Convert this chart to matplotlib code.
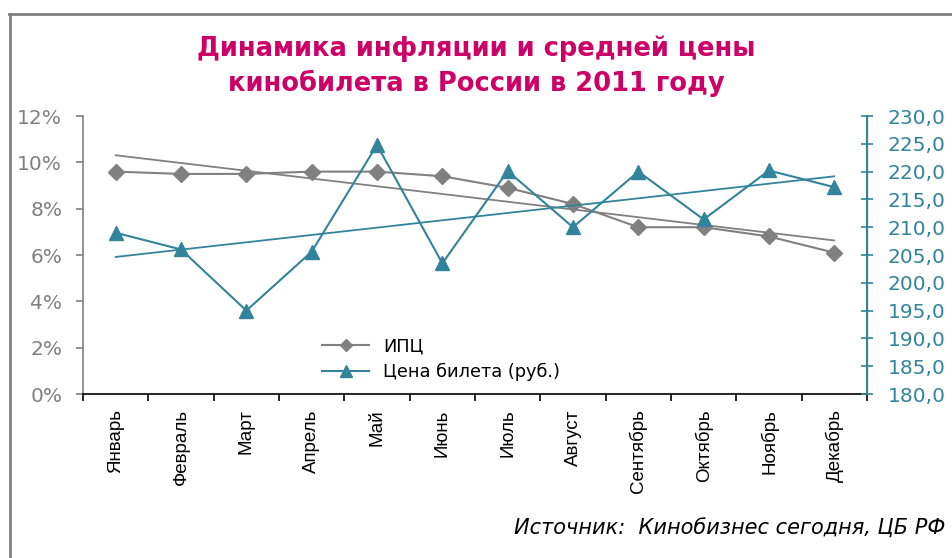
import matplotlib.pyplot as plt
import numpy as np
from matplotlib.lines import Line2D

# Данные за 2011 год
months = ['Январь', 'Февраль', 'Март', 'Апрель', 'Май', 'Июнь',
          'Июль', 'Август', 'Сентябрь', 'Октябрь', 'Ноябрь', 'Декабрь']
ipc = [9.6, 9.5, 9.5, 9.6, 9.6, 9.4, 8.9, 8.2, 7.2, 7.2, 6.8, 6.1]
price = [209.0, 206.0, 195.0, 205.6, 224.8, 203.5,
         220.1, 210.0, 220.0, 211.4, 220.2, 217.2]

gray = '#808080'
teal = '#31849B'
pink = '#CC0066'

fig = plt.figure(figsize=(9.52, 5.58), dpi=100)
ax = fig.add_axes([0.0872, 0.2939, 0.8235, 0.4982])
ax2 = ax.twinx()

x = np.arange(len(months))

# линии тренда
k1, b1 = np.polyfit(x, ipc, 1)
k2, b2 = np.polyfit(x, price, 1)
ax.plot(x, k1 * x + b1, color=gray, lw=1.3, zorder=2)
ax2.plot(x, k2 * x + b2, color=teal, lw=1.3, zorder=2)

ax.plot(x, ipc, color=gray, lw=1.5, marker='D', ms=8.5, zorder=3)
ax2.plot(x, price, color=teal, lw=1.5, marker='^', ms=10.5, zorder=3)

ax.set_xlim(-0.5, 11.5)
ax.set_ylim(0, 12)
ax2.set_ylim(180, 230)

ax.set_xticks(x)
ax.set_xticklabels(months, rotation=90, fontsize=13.5, color='black',
                   family='Liberation Sans')
ax.set_xticks(np.arange(-0.5, 12, 1), minor=True)
ax.tick_params(axis='x', which='major', length=0, pad=11)
ax.tick_params(axis='x', which='minor', length=5, color='black', width=1.2)

ax.set_yticks(np.arange(0, 13, 2))
ax.set_yticklabels([f'{v}%' for v in range(0, 13, 2)])
ax.tick_params(axis='y', colors=gray, labelsize=14.5, length=5, width=1.2, pad=10)

ax2.set_yticks(np.arange(180, 231, 5))
ax2.set_yticklabels([f'{v},0' for v in range(180, 231, 5)])
ax2.tick_params(axis='y', colors=teal, labelsize=14.5, length=8, width=1.2,
                direction='inout', pad=11)

for a in (ax, ax2):
    a.spines['top'].set_visible(False)
ax.spines['left'].set_color(gray)
ax.spines['left'].set_linewidth(1.2)
ax.spines['bottom'].set_color('black')
ax.spines['bottom'].set_linewidth(1.2)
ax2.spines['right'].set_color(teal)
ax2.spines['right'].set_linewidth(1.5)
ax2.spines['left'].set_visible(False)
ax2.spines['bottom'].set_visible(False)

handles = [Line2D([], [], color=gray, lw=1.5, marker='D', ms=6),
           Line2D([], [], color=teal, lw=1.5, marker='^', ms=8)]
ax.legend(handles, ['ИПЦ', 'Цена билета (руб.)'], loc='lower left',
          bbox_to_anchor=(0.285, -0.01), frameon=False, fontsize=12.8,
          handlelength=2.6, labelspacing=0.4)

fig.text(0.5, 0.912, 'Динамика инфляции и средней цены', ha='center',
         va='center', fontsize=18.5, fontweight='bold', color=pink)
fig.text(0.5, 0.850, 'кинобилета в России в 2011 году', ha='center',
         va='center', fontsize=18.5, fontweight='bold', color=pink)

fig.text(0.993, 0.052, 'Источник:  Кинобизнес сегодня, ЦБ РФ', ha='right',
         va='center', fontsize=15, style='italic', color='black')

# рамка
fig.add_artist(Line2D([0.0095, 1.0], [0.975, 0.975], color=gray, lw=2,
                      transform=fig.transFigure))
fig.add_artist(Line2D([0.0105, 0.0105], [0.0, 0.975], color=gray, lw=2,
                      transform=fig.transFigure))

fig.savefig('out.png', dpi=100)
